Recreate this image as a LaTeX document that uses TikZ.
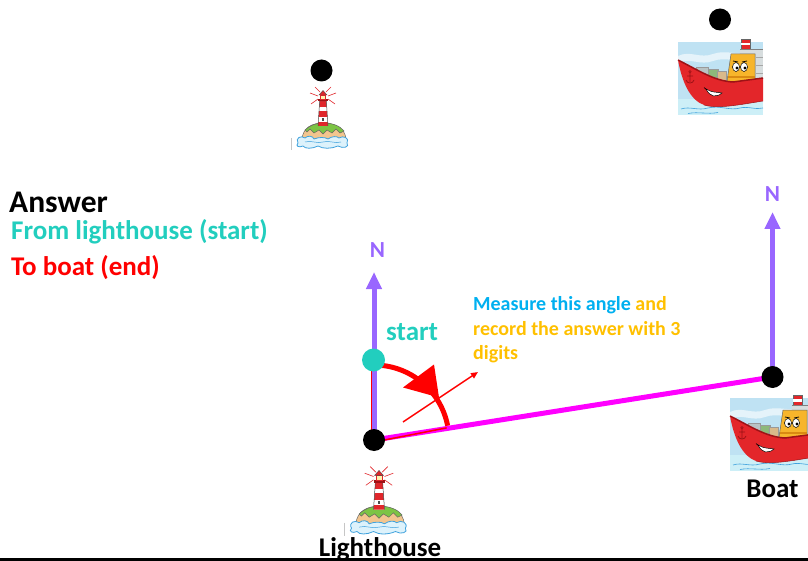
\documentclass[tikz,border=0pt]{standalone}
\usepackage{fontspec}
\setmainfont{Carlito}
\usetikzlibrary{arrows.meta}

\definecolor{compass}{HTML}{9966FF}
\definecolor{course}{HTML}{FF00FF}
\definecolor{startcol}{HTML}{22CEBE}
\definecolor{noteblue}{HTML}{00B0F0}
\definecolor{noteorange}{HTML}{FFC000}
\definecolor{lhred}{HTML}{E0262B}
\definecolor{sand}{HTML}{F2C58E}
\definecolor{grass}{HTML}{7CC444}
\definecolor{foam}{HTML}{DDF2FB}
\definecolor{waveblue}{HTML}{3FA2DD}
\definecolor{lamp}{HTML}{FFF3B0}
\definecolor{shipsky}{HTML}{BFE2F3}
\definecolor{shipsea}{HTML}{CDEFF7}
\definecolor{shipred}{HTML}{E3262A}
\definecolor{hulldark}{HTML}{9E1216}
\definecolor{shipgrey}{HTML}{D7DDDE}
\definecolor{cabin}{HTML}{F7B52B}
\definecolor{cabindark}{HTML}{D98A12}
\definecolor{contgrey}{HTML}{B9C3C4}
\definecolor{contgreen}{HTML}{8DB87A}
\definecolor{conttan}{HTML}{D9B98A}

\tikzset{
  dot/.style={circle, fill=black, minimum size=22pt, inner sep=0pt},
  startdot/.style={circle, fill=startcol, minimum size=23pt, inner sep=0pt},
  northarrow/.style={draw=compass, line width=5pt,
    -{Triangle[width=15pt,length=17pt]}},
  courseline/.style={draw=course, line width=5pt},
  label/.style={inner sep=0pt, font=\bfseries\fontsize{27}{32}\selectfont},
  notetext/.style={inner sep=0pt, anchor=base west, font=\bfseries\fontsize{20}{24}\selectfont},
  lighthouse/.pic={
    % faint stamp line
    \draw[gray!45, line width=0.5pt] (-32,12) -- (-32,24);
    % light rays
    \draw[lhred, line width=0.6pt]
      (-5,-30) -- (-13,-33) (5,-30) -- (13,-33)
      (-5,-27) -- (-12,-22) (5,-27) -- (12,-22)
      (-3,-34) -- (-8,-39) (3,-34) -- (8,-39);
    % island
    \filldraw[fill=sand, draw=black!60, line width=0.5pt]
      (-21,13) .. controls (-20,1) and (-10,-3) .. (0,-3)
      .. controls (12,-3) and (22,2) .. (23,13) -- cycle;
    \filldraw[fill=grass, draw=black!60, line width=0.5pt]
      (-18,4) .. controls (-13,-1) and (-6,-3) .. (0,-3)
      .. controls (10,-3) and (17,0) .. (21,5)
      -- (17,7) -- (13,3) -- (9,7) -- (4,4) -- (0,8) -- (-4,4)
      -- (-9,7) -- (-13,3) -- (-16,6) -- cycle;
    % tower
    \begin{scope}
      \clip (-5,0) -- (5,0) -- (3.3,-25) -- (-3.3,-25) -- cycle;
      \fill[white] (-6,1) rectangle (6,-26);
      \fill[lhred] (-6,-25) rectangle (6,-19);
      \fill[lhred] (-6,-15) rectangle (6,-9);
      \fill[lhred] (-6,-4) rectangle (6,1);
    \end{scope}
    \draw[black!70, line width=0.5pt] (-5,0) -- (-3.3,-25) -- (3.3,-25) -- (5,0);
    \fill[black!70] (-1,-7.5) rectangle (1,-5);
    % gallery, lantern and roof
    \fill[hulldark] (-5,-26.5) rectangle (5,-24.5);
    \filldraw[fill=lamp, draw=lhred, line width=0.7pt] (-2.6,-26.5) rectangle (2.6,-31);
    \filldraw[fill=lhred, draw=black!70, line width=0.4pt] (-4,-31) -- (4,-31) -- (0,-35.5) -- cycle;
    % surf
    \filldraw[fill=foam, draw=waveblue, line width=0.8pt]
      (-25,17) .. controls (-28,12) and (-22,9) .. (-18,12)
      .. controls (-15,9) and (-10,10) .. (-9,13)
      .. controls (-4,11) and (2,11) .. (5,13)
      .. controls (9,10) and (14,10) .. (16,12)
      .. controls (20,9) and (27,12) .. (24,17)
      .. controls (27,21) and (20,23) .. (15,20)
      .. controls (8,23) and (0,23) .. (-5,20)
      .. controls (-11,23) and (-18,23) .. (-20,20)
      .. controls (-24,22) and (-28,20) .. (-25,17) -- cycle;
    \draw[waveblue, line width=0.5pt]
      (-18,16) .. controls (-12,14) and (-6,18) .. (0,16)
      .. controls (6,14) and (12,18) .. (18,16);
  },
  ship/.pic={
    % sky with clouds
    \fill[shipsky] (0,0) rectangle (85,73);
    \fill[white, opacity=0.6]
      (0,14) .. controls (12,8) and (22,17) .. (35,12)
      .. controls (48,7) and (60,15) .. (85,9) -- (85,17)
      .. controls (60,22) and (48,14) .. (35,19)
      .. controls (22,24) and (12,15) .. (0,21) -- cycle;
    % sea
    \fill[shipsea] (0,57) rectangle (85,73);
    \draw[waveblue, line width=0.6pt]
      (3,67) .. controls (12,64) and (20,69) .. (30,66)
      .. controls (42,63) and (52,69) .. (62,66)
      .. controls (70,64) and (78,68) .. (85,66);
    \draw[waveblue, line width=0.6pt] (10,71.5) .. controls (20,69.5) and (30,72.5) .. (40,70.5);
    % funnel
    \filldraw[fill=shipred, draw=black!60, line width=0.4pt] (63,-3) rectangle (72,8);
    \fill[white] (63.2,1) rectangle (71.8,3.5);
    % superstructure
    \fill[shipgrey] (62,7) rectangle (85,52);
    \draw[black!50, line width=0.4pt] (62,7) -- (85,7);
    \foreach \yy in {16,24,32} \draw[black!35, line width=1pt] (78,\yy) -- (85,\yy);
    % wheelhouse with face
    \fill[cabin] (53,12) -- (77,12) -- (77,46) -- (48,46) -- cycle;
    \draw[black!60, line width=0.5pt] (48,46) -- (53,12) -- (77,12) -- (77,46);
    \draw[cabindark, line width=1.2pt] (50,35) -- (77,35);
    \filldraw[fill=white, draw=black, line width=0.5pt] (58,25) ellipse (3.5 and 4.5);
    \filldraw[fill=white, draw=black, line width=0.5pt] (66,25) ellipse (3.5 and 4.5);
    \fill[black] (59,26) circle (1.6) (67,26) circle (1.6);
    \draw[black, line width=0.7pt] (55,19) -- (60,20) (64,20) -- (69,19);
    % containers
    \filldraw[fill=contgrey, draw=black!40, line width=0.3pt] (18,25) rectangle (30,34);
    \filldraw[fill=contgreen, draw=black!40, line width=0.3pt] (30,27) rectangle (40,35);
    \filldraw[fill=conttan, draw=black!40, line width=0.3pt] (39,29) rectangle (48,38);
    % hull
    \fill[shipred] (0,18) .. controls (20,28) and (36,39) .. (55,40) -- (85,36)
      -- (85,59) .. controls (60,63) and (40,67) .. (26,63)
      .. controls (12,58) and (4,40) .. (0,18) -- cycle;
    \draw[hulldark, line width=1.5pt] (0,18) .. controls (20,28) and (36,39) .. (55,40) -- (85,36);
    \draw[hulldark, line width=0.5pt] (26,63) .. controls (40,67) and (60,63) .. (85,59);
    % grin
    \filldraw[fill=white, draw=black, line width=0.5pt]
      (28,47) .. controls (32,55) and (38,56) .. (44,51)
      .. controls (40,50) and (34,51) .. (28,47) -- cycle;
    \draw[black, line width=0.6pt] (26,45.5) -- (29,48);
    % anchor
    \draw[hulldark, line width=0.8pt] (12,31) -- (12,40) (9,34) -- (15,34)
      (8,38) .. controls (9,42) and (15,42) .. (16,38);
    \draw[hulldark, line width=0.6pt] (12,29.8) circle (1.2);
  }
}

\begin{document}
\begin{tikzpicture}[x=1pt, y=-1pt]
  \useasboundingbox (0,0) rectangle (808,561);
  \begin{scope}
    \clip (0,0) rectangle (808,561);

    % pictures of the two positions
    \pic at (323,126) {lighthouse};
    \pic at (678,42) {ship};
    \pic[scale=1.1] at (379,509.5) {lighthouse};
    \pic at (730,398) {ship};

    % key points
    \coordinate (lhC) at (374,440);
    \coordinate (boatC) at (772.5,377);
    \coordinate (lhNtip) at (374,272);
    \coordinate (boatNtip) at (772.5,212);
    \coordinate (hintA) at (403,422);
    \coordinate (hintB) at (478,372);

    % course from lighthouse to boat and the north lines
    \draw[courseline] (lhC) -- (boatC);
    \draw[northarrow] (lhC) -- (lhNtip);
    \draw[northarrow] (boatC) -- (boatNtip);

    % the bearing angle
    \draw[red, line width=1.5pt] ([xshift=-2.5pt]lhC) -- ++(0,-78);
    \draw[red, line width=1.5pt] ([yshift=-2pt]lhC) -- ++(-11:74);
    \draw[red, line width=5pt] (lhC) ++(-90:75) arc[start angle=-90, end angle=-11, radius=75];
    \fill[red] (403,387.5) -- (434,364.5) -- (439,397.5) -- cycle;
    \draw[red, line width=1.5pt, -{Triangle[width=6pt,length=7pt]}] (hintA) -- (hintB);

    % position markers
    \node[dot] (lhTop) at (321.5,70.5) {};
    \node[dot] (shipTop) at (720,19.5) {};
    \node[startdot] (startDot) at (373.5,360) {};
    \node[dot] (lh) at (lhC) {};
    \node[dot] (boat) at (boatC) {};

    % labels
    \node[label, anchor=base, text=compass, font=\bfseries\fontsize{23}{26}\selectfont] (lhN) at (377.5,258) {N};
    \node[label, anchor=base, text=compass, font=\bfseries\fontsize{23}{26}\selectfont] (boatN) at (772.5,202) {N};
    \node[label, anchor=base west, text=startcol] (startText) at (386,340) {start};
    \node[label, anchor=base] (boatText) at (772.5,497) {Boat};
    \node[label, anchor=base] (lhText) at (380,556) {Lighthouse};

    \node[label, anchor=base west, font=\bfseries\fontsize{31.5}{36}\selectfont] (answer) at (9,213) {Answer};
    \node[label, anchor=base west, text=startcol] (fromText) at (11,240) {From lighthouse (start)};
    \node[label, anchor=base west, text=red] (toText) at (11,276) {To boat (end)};

    \node[notetext] (note1) at (473,310) {\textcolor{noteblue}{Measure this angle} \textcolor{noteorange}{and}};
    \node[notetext, text=noteorange] (note2) at (473,335) {record the answer with 3};
    \node[notetext, text=noteorange] (note3) at (473,359) {digits};

    % rule along the bottom edge
    \fill[black] (0,557.5) rectangle (808,561);
  \end{scope}
\end{tikzpicture}
\end{document}
